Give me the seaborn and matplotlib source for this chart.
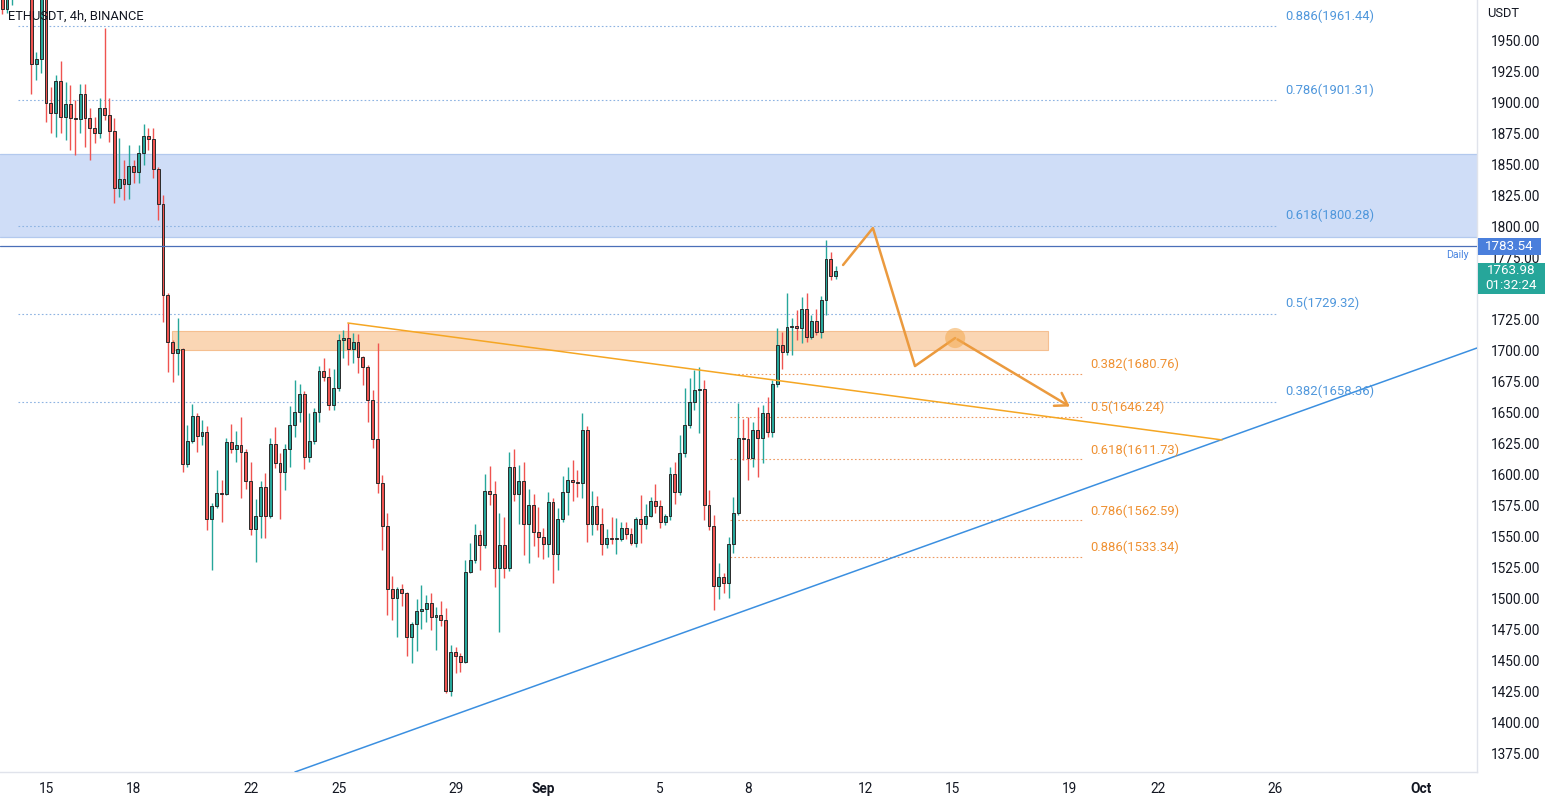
import numpy as np
import pandas as pd
import matplotlib
matplotlib.use("Agg")
import matplotlib.pyplot as plt
import matplotlib.transforms as mtransforms
from matplotlib.patches import Rectangle
import seaborn as sns

# ---------------- data ----------------
candle_start = "2022-08-13 12:00"
opens = [1992, 1975, 1988, 1996, 2004, 1998, 1995, 1930.7, 1934.7, 1995,
         1899.2, 1891.1, 1917, 1887.9, 1898.4, 1887.1, 1886.3, 1906.5, 1887.1, 1879,
         1875, 1895.2, 1889.5, 1876.6, 1830.7, 1838, 1833.9, 1848.4, 1843.5, 1858.9,
         1872.6, 1870.2, 1846, 1817.7, 1744.4, 1706.5, 1697.6, 1700.8, 1608, 1626.6,
         1646.8, 1630.7, 1633.9, 1563.7, 1574.2, 1584.7, 1584.2, 1625.8, 1620.2, 1623.4,
         1617.8, 1594.4, 1555.7, 1566.2, 1589.6, 1566.2, 1624.2, 1608.9, 1601.6, 1620.2,
         1639.5, 1650, 1664.5, 1613.7, 1626.6, 1650, 1683.1, 1678.2, 1655.7, 1669.4,
         1708.1, 1709.7, 1700.8, 1706.5, 1694.4, 1686.3, 1659.7, 1628.3, 1592.8, 1558,
         1507.3, 1500, 1507.3, 1504, 1468.6, 1479, 1489.5, 1491.1, 1496, 1484.7,
         1486.3, 1482.3, 1425, 1456.5, 1453.2, 1448.4, 1521, 1530.7, 1550.8, 1542.8,
         1586.3, 1583.9, 1524.2, 1542.8, 1524.2, 1605.7, 1583.9, 1594.4, 1559.7, 1575,
         1553.2, 1549.2, 1543.6, 1577.4, 1535.5, 1563.7, 1585.5, 1595.2, 1593.6, 1592.8,
         1635.5, 1559.7, 1574.2, 1559.7, 1543.6, 1548.4, 1547.6, 1548, 1556.5, 1551.6,
         1544.4, 1563.7, 1559.7, 1566.2, 1578.3, 1574.2, 1561.3, 1566.2, 1600, 1585.5,
         1617, 1639.5, 1658.1, 1667.8, 1668.6, 1575, 1558, 1509.7, 1517, 1512.1,
         1543.6, 1568.6, 1629.1, 1628.3, 1613, 1635.5, 1629.1, 1649.2, 1633.9, 1672.6,
         1704.1, 1698.4, 1718.6, 1719, 1717.8, 1733.1, 1710.5, 1723.4, 1714.5, 1740.4,
         1773.4, 1759.7]
highs = [2000, 1992, 2002, 2010, 2012, 2005, 2003, 1940, 2000, 2000,
         1912.1, 1921.8, 1933.1, 1916.2, 1913.7, 1901.6, 1914.5, 1914.5, 1895.2, 1888,
         1903.2, 1959.7, 1903.2, 1887.1, 1871, 1853.2, 1865.4, 1853.2, 1865.4, 1882.3,
         1879, 1879, 1848, 1825, 1746, 1708, 1725.8, 1702, 1639.5, 1656.5,
         1649.2, 1643.6, 1638.7, 1577, 1603.3, 1595.2, 1629, 1640.3, 1634.7, 1646,
         1620, 1609.7, 1579.9, 1594.4, 1600.8, 1629, 1637.9, 1617, 1624.2, 1654.9,
         1675.8, 1672.6, 1667, 1649.2, 1653.3, 1687.1, 1693.6, 1685.5, 1684.7, 1713,
         1716.2, 1721.8, 1713.7, 1712.9, 1695, 1688, 1667.8, 1705.7, 1599.2, 1568.6,
         1517.7, 1509, 1511.3, 1505, 1481, 1499.2, 1510.5, 1502.4, 1504, 1492.8,
         1497.6, 1492, 1462.1, 1460.5, 1455.7, 1530.7, 1544.4, 1559.7, 1554.9, 1600,
         1606.5, 1594.4, 1568.6, 1565.4, 1617.8, 1620.2, 1607.3, 1609.7, 1588, 1583.9,
         1573.4, 1556.5, 1585.5, 1580.7, 1572.6, 1598.4, 1605.7, 1611.3, 1603.3, 1649.2,
         1638.7, 1586.3, 1582.3, 1572.6, 1555.7, 1565.4, 1564.5, 1561.3, 1561.3, 1556.5,
         1565, 1583.1, 1575.8, 1581.5, 1591.9, 1579.1, 1568, 1605.7, 1609.7, 1631.5,
         1669.4, 1677.5, 1684, 1686.3, 1675.8, 1587.2, 1567, 1528.2, 1520.2, 1549.2,
         1581.5, 1657.3, 1644.4, 1646, 1642, 1654.1, 1655.7, 1662.1, 1675.8, 1717.8,
         1714.5, 1746, 1725.8, 1732.3, 1742.8, 1746, 1728, 1733.1, 1743.6, 1788.7,
         1779, 1767.7]
lows = [1971, 1972, 1978, 1988, 1990, 1984, 1906.5, 1917.8, 1923.4, 1884,
        1875, 1871.8, 1875, 1869.4, 1861.3, 1857.3, 1875, 1863.7, 1853.2, 1867,
        1871, 1885.5, 1867.8, 1818.5, 1823.4, 1821, 1821.8, 1834.7, 1834.7, 1849.2,
        1861.3, 1838.7, 1804.9, 1722.6, 1682.3, 1674.2, 1679.9, 1601.6, 1606, 1625,
        1617.8, 1623.4, 1554.9, 1522.6, 1572.6, 1561.3, 1583, 1617, 1609.7, 1580.7,
        1588, 1550.8, 1529, 1548.4, 1548.4, 1564.5, 1604.9, 1563.7, 1587.2, 1605.7,
        1629.9, 1642, 1604.1, 1609.7, 1624, 1642, 1675, 1651.7, 1652, 1667,
        1693.6, 1688, 1689.6, 1681.5, 1671.8, 1642, 1621, 1584.7, 1538.8, 1486.3,
        1482.3, 1468.6, 1493.6, 1453.2, 1447.6, 1457.3, 1475, 1480.7, 1474.2, 1458.1,
        1477.4, 1423.4, 1421, 1439.5, 1440.3, 1447.6, 1520.2, 1528.2, 1522.6, 1540,
        1575, 1508.9, 1472.6, 1516.2, 1522, 1578, 1559.7, 1534.7, 1528.2, 1542,
        1533.1, 1531.5, 1533.1, 1512.2, 1522.6, 1561.3, 1567, 1578.3, 1581.5, 1580.7,
        1545.2, 1550.8, 1554.9, 1534.7, 1540.4, 1543.6, 1535.5, 1546, 1547.6, 1542.8,
        1541, 1544.4, 1555.7, 1565.4, 1568.6, 1556.5, 1559, 1563, 1575.8, 1583,
        1614, 1637, 1652, 1633, 1563, 1554.9, 1490.4, 1499.2, 1504, 1500,
        1536, 1567, 1611.3, 1595.2, 1605.7, 1597.6, 1608.9, 1630, 1629.9, 1670.2,
        1684.7, 1696, 1696, 1708.1, 1705.7, 1706.5, 1709, 1712, 1709.7, 1728,
        1756.5, 1757]
closes = [1975, 1988, 1996, 2004, 1998, 1995, 1930.7, 1934.7, 1995, 1899.2,
          1891.1, 1917, 1887.9, 1898.4, 1887.1, 1886.3, 1906.5, 1887.1, 1879, 1875,
          1895.2, 1889.5, 1876.6, 1830.7, 1838, 1833.9, 1848.4, 1843.5, 1858.9, 1872.6,
          1870.2, 1846, 1817.7, 1744.4, 1706.5, 1697.6, 1700.8, 1608, 1626.6, 1646.8,
          1630.7, 1633.9, 1563.7, 1574.2, 1584.7, 1584.2, 1625.8, 1620.2, 1623.4, 1617.8,
          1594.4, 1555.7, 1566.2, 1589.6, 1566.2, 1624.2, 1608.9, 1601.6, 1620.2, 1639.5,
          1650, 1664.5, 1613.7, 1626.6, 1650, 1683.1, 1678.2, 1655.7, 1669.4, 1708.1,
          1709.7, 1700.8, 1706.5, 1694.4, 1686.3, 1659.7, 1628.3, 1592.8, 1558, 1507.3,
          1500, 1507.3, 1504, 1468.6, 1479, 1489.5, 1491.1, 1496, 1484.7, 1486.3,
          1482.3, 1425, 1456.5, 1453.2, 1448.4, 1521, 1530.7, 1550.8, 1542.8, 1586.3,
          1583.9, 1524.2, 1542.8, 1524.2, 1605.7, 1583.9, 1594.4, 1559.7, 1575, 1553.2,
          1549.2, 1543.6, 1577.4, 1535.5, 1563.7, 1585.5, 1595.2, 1593.6, 1592.8, 1635.5,
          1559.7, 1574.2, 1559.7, 1543.6, 1548.4, 1547.6, 1548, 1556.5, 1551.6, 1544.4,
          1563.7, 1559.7, 1566.2, 1578.3, 1574.2, 1561.3, 1566.2, 1600, 1585.5, 1617,
          1639.5, 1658.1, 1667.8, 1668.6, 1575, 1558, 1509.7, 1517, 1512.1, 1543.6,
          1568.6, 1629.1, 1628.3, 1613, 1635.5, 1629.1, 1649.2, 1633.9, 1672.6, 1704.1,
          1698.4, 1718.6, 1719, 1717.8, 1733.1, 1710.5, 1723.4, 1714.5, 1740.4, 1773.4,
          1759.7, 1763.98]

x_tick_dates = ["2022-08-15", "2022-08-18", "2022-08-22", "2022-08-25", "2022-08-29",
                "2022-09-01", "2022-09-05", "2022-09-08", "2022-09-12", "2022-09-15",
                "2022-09-19", "2022-09-22", "2022-09-26", "2022-10-01"]
x_tick_labels = ["15", "18", "22", "25", "29", "Sep", "5", "8", "12", "15", "19", "22", "26", "Oct"]
# 1750.00 is hidden under the last-price label in the reference
y_ticks = [1375, 1400, 1425, 1450, 1475, 1500, 1525, 1550, 1575, 1600, 1625, 1650,
           1675, 1700, 1725, 1775, 1800, 1825, 1850, 1875, 1900, 1925, 1950]

fib_blue_ratios = ["0.886", "0.786", "0.618", "0.5", "0.382"]
fib_blue_prices = [1961.44, 1901.31, 1800.28, 1729.32, 1658.36]
fib_blue_span = ["2022-08-14 01:00", "2022-09-26 03:00"]
fib_orange_ratios = ["0.382", "0.5", "0.618", "0.786", "0.886"]
fib_orange_prices = [1680.76, 1646.24, 1611.73, 1562.59, 1533.34]
fib_orange_span = ["2022-09-07 09:00", "2022-09-19 10:00"]

blue_zone = [1791.1, 1858.1]
orange_zone_span = ["2022-08-19 07:30", "2022-09-18 06:00"]
orange_zone = [1700.0, 1715.3]
orange_trend_t = ["2022-08-25 07:40", "2022-09-24 05:00"]
orange_trend_p = [1721.8, 1627.5]
blue_trend_t = ["2022-08-23 12:15", "2022-10-02 22:00"]
blue_trend_p = [1359.7, 1701.6]
proj_t = ["2022-09-11 06:00", "2022-09-12 06:30", "2022-09-13 17:00", "2022-09-15 02:00", "2022-09-19 02:00"]
proj_p = [1768.6, 1798.4, 1687.1, 1709.7, 1653.3]
daily_level = 1783.54
last_price = 1763.98
countdown = "01:32:24"

# ---------------- helpers ----------------
origin = pd.Timestamp("2022-08-01")


def day(t):
    t = pd.to_datetime(t)
    return np.asarray((t - origin) / pd.Timedelta("1D") + 1, dtype=float)


n = len(closes)
cdf = pd.DataFrame({"t": day(pd.date_range(candle_start, periods=n, freq="4h")),
                    "o": opens, "h": highs, "l": lows, "c": closes})
cdf["up"] = cdf["c"] >= cdf["o"]

sns.set_theme(style="white")
plt.rcParams["font.family"] = ["Roboto", "DejaVu Sans"]

GREEN = "#26a69a"
RED = "#ef5350"
TXT = "#131722"

fig = plt.figure(figsize=(15.5, 8), dpi=100)
ax = fig.add_axes([0, 28 / 800, 1477 / 1550, 772 / 800])
ax.set_facecolor("white")
ax.set_xlim(13.427, 63.923)
ax.set_ylim(1359.7, 1982.3)

# zones
ax.axhspan(blue_zone[0], blue_zone[1], facecolor="#cfddf7", edgecolor="none", zorder=1)
for b in blue_zone:
    ax.axhline(b, color="#b3c9ee", lw=0.9, zorder=1.1)
zx = day(orange_zone_span)
ax.add_patch(Rectangle((zx[0], orange_zone[0]), zx[1] - zx[0], orange_zone[1] - orange_zone[0],
                       facecolor="#fad6b4", edgecolor="#f5bf90", lw=0.8, zorder=1))

# fib levels
bx = day(fib_blue_span)
for r, p in zip(fib_blue_ratios, fib_blue_prices):
    ax.plot(bx, [p, p], color="#8db3e2", lw=0.8, ls=(0, (1.5, 2)), zorder=2)
    ax.annotate(f"{r}({p:.2f})", (bx[1], p), xytext=(5, 7.2), textcoords="offset points",
                color="#4f97dc", fontsize=9.4, va="center", ha="left", zorder=6)
ox = day(fib_orange_span)
for r, p in zip(fib_orange_ratios, fib_orange_prices):
    ax.plot(ox, [p, p], color="#ee9a62", lw=0.8, ls=(0, (1.5, 2)), zorder=2)
    ax.annotate(f"{r}({p:.2f})", (ox[1], p), xytext=(6, 6.6), textcoords="offset points",
                color="#ef9133", fontsize=9.4, va="center", ha="left", zorder=6)

# candles
w = 0.1
for up, col in [(True, GREEN), (False, RED)]:
    s = cdf[cdf["up"] == up]
    ax.vlines(s["t"], s["l"], s["h"], color=col, lw=1.0, zorder=3)
    hgt = (s["c"] - s["o"]).where((s["c"] - s["o"]).abs() > 0.9, 0.9 if up else -0.9)
    ax.bar(s["t"], hgt, bottom=s["o"], width=w, color=col, edgecolor="#2a2a2a",
           linewidth=0.7, zorder=4)

# daily horizontal level
ax.axhline(daily_level, color="#4a6fb8", lw=0.9, zorder=5)

# trend lines
sns.lineplot(x=day(blue_trend_t), y=blue_trend_p, ax=ax, color="#3b8fe0", lw=1.1, zorder=5)
sns.lineplot(x=day(orange_trend_t), y=orange_trend_p, ax=ax, color="#f5a623", lw=1.1, zorder=5)

# projection path
px = day(proj_t)
ax.plot(px[:-1], proj_p[:-1], color="#eb9a3e", lw=1.8, solid_capstyle="round", zorder=6)
ax.annotate("", xy=(px[-1], proj_p[-1]), xytext=(px[-2], proj_p[-2]),
            arrowprops=dict(arrowstyle="->,head_length=0.7,head_width=0.45", color="#eb9a3e", lw=1.8),
            zorder=6)
ax.scatter([px[3]], [proj_p[3]], s=210, color="#f3a94f", alpha=0.55, edgecolor="none", zorder=6)

# axes styling
ax.set_xlabel("")
ax.set_ylabel("")
ax.yaxis.tick_right()
ax.set_yticks(y_ticks)
ax.set_yticklabels([f"{v:.2f}" for v in y_ticks])
ax.set_xticks(day(x_tick_dates))
ax.set_xticklabels(x_tick_labels)
for lab in ax.get_xticklabels():
    if lab.get_text() in ("Sep", "Oct"):
        lab.set_fontweight("bold")
ax.tick_params(axis="y", length=0, pad=10, labelsize=9.8, labelcolor=TXT)
ax.tick_params(axis="x", length=0, pad=7, labelsize=9.8, labelcolor=TXT)
for sp in ["top", "left"]:
    ax.spines[sp].set_visible(False)
ax.spines["right"].set_color("#e0e3eb")
ax.spines["bottom"].set_color("#e0e3eb")
ax.spines["right"].set_linewidth(1)
ax.spines["bottom"].set_linewidth(1)
ax.grid(False)

# texts
ax.text(8 / 1477, 1 - 16 / 772, "ETHUSDT, 4h, BINANCE", transform=ax.transAxes,
        fontsize=9.3, color=TXT, va="center", ha="left", zorder=7)
blend = mtransforms.blended_transform_factory(ax.transAxes, ax.transData)
ax.text(1 + 10 / 1477, 1971.8, "USDT", transform=blend, fontsize=9.3, color=TXT,
        va="center", ha="left", clip_on=False)
ax.text(1 - 8 / 1477, 1776.6, "Daily", transform=blend, fontsize=7.6, color="#4a86e0",
        va="center", ha="right")

ppx = 1 / 1.24  # price units per pixel
ax.add_patch(Rectangle((1 + 1 / 1477, daily_level - 8.5 * ppx), 63 / 1477, 17 * ppx,
                       transform=blend, facecolor="#4a7fdc", edgecolor="none", clip_on=False, zorder=8))
ax.text(1 + 32.5 / 1477, daily_level, f"{daily_level:.2f}", transform=blend, fontsize=9.6,
        color="white", va="center", ha="center", clip_on=False, zorder=9)
ax.add_patch(Rectangle((1 + 1 / 1477, last_price - 23 * ppx), 67 / 1477, 31 * ppx,
                       transform=blend, facecolor="#26a69a", edgecolor="none", clip_on=False, zorder=8))
ax.text(1 + 34.5 / 1477, last_price, f"{last_price:.2f}", transform=blend, fontsize=9.6,
        color="white", va="center", ha="center", clip_on=False, zorder=9)
ax.text(1 + 34.5 / 1477, last_price - 15 * ppx, countdown, transform=blend, fontsize=9.6,
        color="white", va="center", ha="center", clip_on=False, zorder=9)

fig.savefig("out.png", dpi=100, facecolor="white")
